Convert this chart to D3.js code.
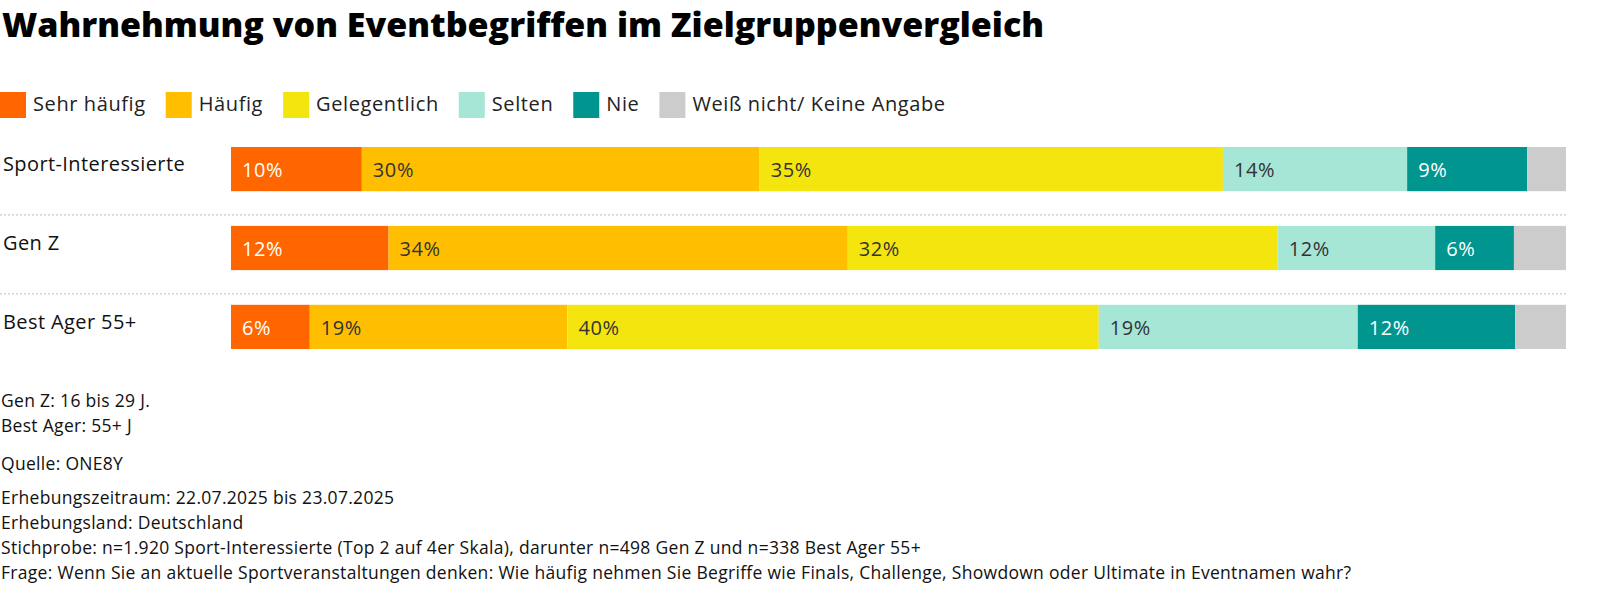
<!DOCTYPE html>
<html><head><meta charset="utf-8">
<script src="https://cdn.jsdelivr.net/npm/d3@7"></script>
<style>html,body{margin:0;background:#fff;overflow:hidden;font-family:"Open Sans","Noto Sans",sans-serif;} svg{display:block;}</style>
</head><body><div id="viz"></div>
<script>
const groups = ["Sport-Interessierte", "Gen Z", "Best Ager 55+"];
const categories = ["Sehr häufig", "Häufig", "Gelegentlich", "Selten", "Nie", "Weiß nicht/ Keine Angabe"];
const colors = ["#ff6600", "#ffbf00", "#f5e50f", "#a6e6d7", "#00958f", "#cccccc"];
const textColors = ["#fff", "#333", "#333", "#333", "#fff", "#333"];
const values = [
  [9.8, 29.8, 34.7, 13.8, 9.0, 2.9],
  [11.8, 34.4, 32.2, 11.8, 5.9, 3.9],
  [5.9, 19.3, 39.8, 19.4, 11.8, 3.8]
];
const notes = [
  ["Gen Z: 16 bis 29 J.", 401], ["Best Ager: 55+ J", 426], ["Quelle: ONE8Y", 464],
  ["Erhebungszeitraum: 22.07.2025 bis 23.07.2025", 498], ["Erhebungsland: Deutschland", 523],
  ["Stichprobe: n=1.920 Sport-Interessierte (Top 2 auf 4er Skala), darunter n=498 Gen Z und n=338 Best Ager 55+", 548],
  ["Frage: Wenn Sie an aktuelle Sportveranstaltungen denken: Wie häufig nehmen Sie Begriffe wie Finals, Challenge, Showdown oder Ultimate in Eventnamen wahr?", 573]
];

const width = 1600, height = 602;
const svg = d3.select("#viz").append("svg").attr("width", width).attr("height", height);

svg.append("text").attr("x", 2).attr("y", 37).attr("font-size", 34).attr("font-weight", 800)
  .attr("fill", "#000").text("Wahrnehmung von Eventbegriffen im Zielgruppenvergleich");

// legend
let lx = 0;
const legend = svg.append("g").attr("transform", "translate(0,92)");
categories.forEach((c, i) => {
  const g = legend.append("g").attr("transform", `translate(${lx},0)`);
  g.append("rect").attr("width", 26).attr("height", 26).attr("fill", colors[i]);
  const t = g.append("text").attr("x", 33).attr("y", 19).attr("font-size", 20)
    .attr("letter-spacing", 0.6).attr("fill", "#222").text(c);
  lx += 33 + t.node().getComputedTextLength() + 20;
});

const x = d3.scaleLinear().domain([0, 100]).range([231, 1566]);
const y = d3.scaleBand().domain(groups).range([147, 349]).paddingInner(0.44).paddingOuter(0);

groups.forEach((grp, gi) => {
  const total = d3.sum(values[gi]);
  let acc = 0;
  const row = svg.append("g");
  values[gi].forEach((v, i) => {
    const x0 = x(acc / total * 100), x1 = x((acc + v) / total * 100);
    acc += v;
    row.append("rect").attr("x", x0).attr("y", y(grp)).attr("width", x1 - x0)
      .attr("height", y.bandwidth()).attr("fill", colors[i]);
    if (i < 5) row.append("text").attr("x", x0 + 11).attr("y", y(grp) + y.bandwidth() / 2 + 8)
      .attr("font-size", 20).attr("letter-spacing", 0.6).attr("fill", textColors[i]).text(Math.round(v) + "%");
  });
  svg.append("text").attr("x", 3).attr("y", y(grp) + y.bandwidth() / 2 + 2).attr("font-size", 20)
    .attr("letter-spacing", 0.4).attr("fill", "#111").text(grp);
  if (gi > 0) svg.append("line").attr("x1", 0).attr("x2", 1566)
    .attr("y1", y(grp) - 11).attr("y2", y(grp) - 11)
    .attr("stroke", "#bbb").attr("stroke-dasharray", "2,2");
});

notes.forEach(([t, yy]) => svg.append("text").attr("x", 1).attr("y", yy + 6)
  .attr("font-size", 17.5).attr("letter-spacing", 0.3).attr("fill", "#111").text(t));
</script></body></html>
